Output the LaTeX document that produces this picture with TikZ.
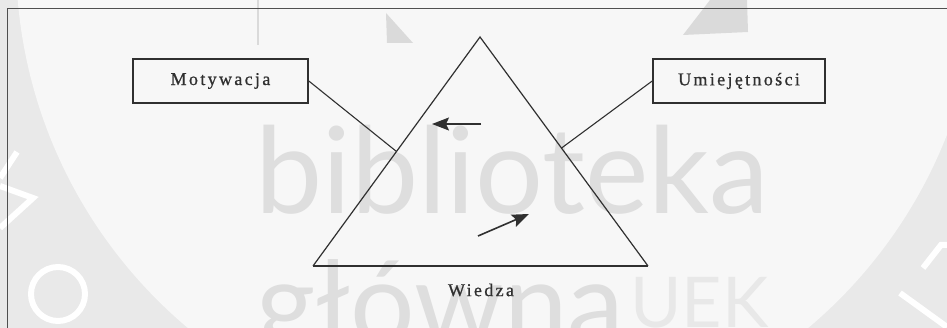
\documentclass[tikz,border=0pt]{standalone}
\usepackage{fontspec}
\setmainfont{Liberation Serif}
\newfontfamily\labfont[LetterSpace=13,FakeBold=0.8]{Liberation Serif}
\newfontfamily\wmfont{Lato}
\usetikzlibrary{calc,arrows.meta}
\definecolor{ink}{HTML}{303030}
\definecolor{bgout}{HTML}{E9E9E9}
\definecolor{bgin}{HTML}{F7F7F7}
\definecolor{wm}{HTML}{DEDEDE}
\definecolor{wmlight}{HTML}{E8E8E8}
\definecolor{logo}{HTML}{DADADA}
\begin{document}
\begin{tikzpicture}[x=1pt,y=-1pt,
  box/.style={draw=ink, line width=1.6pt, minimum width=175pt, minimum height=44pt, inner sep=0pt, font={\labfont\fontsize{18}{20}\selectfont}, text=ink},
  lbl/.style={font={\labfont\fontsize{18}{20}\selectfont}, text=ink, inner sep=0pt},
  edge/.style={draw=ink, line width=1.1pt},
  side/.style={draw=ink, line width=1.2pt},
  arr/.style={draw=ink, line width=1.6pt, -{Stealth[length=17pt,width=13pt,inset=3pt]}},
  wmtext/.style={inner sep=0pt, anchor=base west, text=wm},
]
\useasboundingbox (0,0) rectangle (947,328);
% ---- background watermark ----
\begin{scope}
\clip (0,0) rectangle (947,328);
\fill[bgout] (0,0) rectangle (947,328);
\fill[bgin] (498,-41) circle[radius=482];
\fill[logo] (386,13) -- (387,43) -- (413,43) -- cycle;
\fill[logo] (710,0) -- (683,35) -- (748,32) -- (747,0) -- cycle;
\draw[logo, line width=2pt] (258,0) -- (258,45);
\draw[white, line width=6pt] (17,152) -- (0,178);
\draw[white, line width=6pt] (0,228) -- (33,198) -- (0,186);
\draw[white, line width=6pt] (58,294) circle[radius=27];
\draw[white, line width=6pt] (923,268) -- (941,245) -- (947,245);
\draw[white, line width=6pt] (900,293) -- (947,327);
\node[wmtext] (wm1) at (255,214) {\wmfont\fontsize{120}{122}\selectfont biblioteka};
\node[wmtext] (wm2) at (256,344) {\wmfont\fontsize{114}{116}\selectfont główna};
\node[wmtext, text=wmlight] (wm3) at (630,327) {\wmfont\fontsize{70}{72}\selectfont UEK};
\end{scope}
\draw[ink!85, line width=1pt] (947,9) -- (7,9) -- (7,328);
% ---- diagram ----
\coordinate (A) at (480,37);
\coordinate (B) at (313,266);
\coordinate (C) at (648,266);
\draw[side] (B) -- (A) -- (C);
\draw[ink, line width=1.9pt] (B) -- (C);
\node[box] (mot) at (220.5,81) {Motywacja};
\node[box, minimum width=172pt] (umi) at (739,81) {Umiejętności};
\coordinate (pL) at ($(A)!0.5!(B)$);
\coordinate (pR) at ($(A)!0.485!(C)$);
\draw[edge] (mot.east) -- (pL);
\draw[edge] (umi.west) -- (pR);
\coordinate (a1s) at (481,124);
\coordinate (a1e) at (432,124);
\draw[arr] (a1s) -- (a1e);
\coordinate (a2s) at (478,236);
\coordinate (a2e) at (529,214);
\draw[arr] (a2s) -- (a2e);
\node[lbl] (wie) at (481,290) {Wiedza};
\end{tikzpicture}
\end{document}
